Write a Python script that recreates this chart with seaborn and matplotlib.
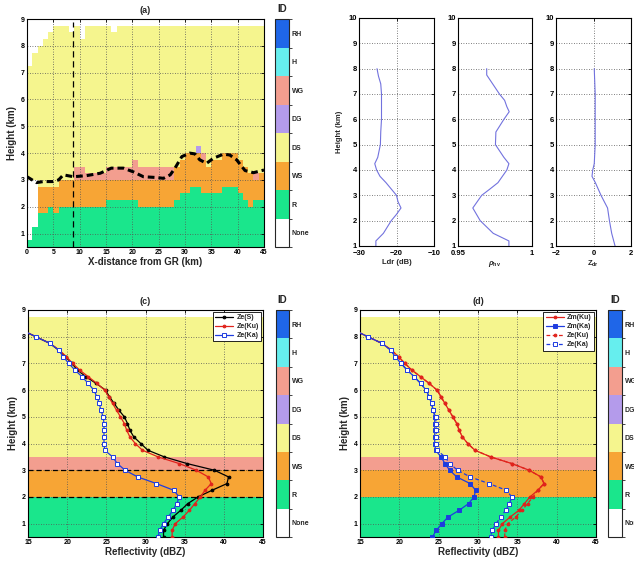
import numpy as np
import pandas as pd
import matplotlib
matplotlib.use("Agg")
import matplotlib.pyplot as plt
import seaborn as sns
from matplotlib.colors import ListedColormap, BoundaryNorm
from matplotlib.cm import ScalarMappable

# ---------------- data ----------------
class_names = ["None", "R", "WS", "DS", "DG", "WG", "H", "RH"]
class_colors = ["#FFFFFF", "#1AE68C", "#F7A535", "#F5F58E", "#B49BEB",
                "#F39E8F", "#66EEEE", "#1F66E8"]

# (a) hydrometeor-ID cross-section: layer tops (km) for each 1-km column
col_edges_km = list(range(0, 46))
r_top = [0.75, 1.25, 1.75, 1.75, 2.0, 1.75,
         2.0, 2.0, 2.0, 2.0, 2.0, 2.0, 2.0, 2.0, 2.0,
         2.25, 2.25, 2.25, 2.25, 2.25, 2.25,
         2.0, 2.0, 2.0, 2.0, 2.0, 2.0, 2.0,
         2.25, 2.5, 2.5, 2.75, 2.75, 2.5, 2.5, 2.5, 2.5, 2.75, 2.75, 2.75,
         2.5, 2.25, 2.0, 2.25, 2.25]
ws_top = [3.0, 3.0, 2.75, 2.75, 2.75, 2.75,
          3.0, 3.0, 3.0, 3.0, 3.0, 3.0, 3.0, 3.0, 3.0, 3.0, 3.0,
          3.0, 3.0, 3.0, 3.0, 3.0, 3.0, 3.0, 3.0, 3.0, 3.0, 3.0,
          3.5, 3.75, 4.0, 4.0, 4.0, 3.75, 3.5, 3.75, 3.75, 4.0, 4.0, 4.0,
          3.75, 3.5, 3.25, 3.0, 3.25]
wg_top = [3.0, 3.0, 2.75, 2.75, 2.75, 2.75,
          3.0, 3.0, 3.0, 3.5, 3.5, 3.25, 3.25, 3.25, 3.25,
          3.5, 3.5, 3.5, 3.5, 3.5, 3.75,
          3.5, 3.5, 3.5, 3.5, 3.5, 3.5, 3.5,
          3.5, 3.75, 4.0, 4.0, 4.0, 4.0, 3.5, 3.75, 3.75, 4.0, 4.0, 4.0,
          3.75, 3.5, 3.25, 3.25, 3.25]
ds_top = [7.25, 7.75, 8.0, 8.25, 8.5, 8.75, 8.75, 8.75, 8.5, 8.75, 8.25,
          8.75, 8.75, 8.75, 8.75, 8.75, 8.5,
          8.75, 8.75, 8.75, 8.75, 8.75, 8.75, 8.75, 8.75, 8.75, 8.75, 8.75,
          8.75, 8.75, 8.75, 8.75, 8.75, 8.75, 8.75, 8.75, 8.75, 8.75, 8.75,
          8.75, 8.75, 8.75, 8.75, 8.75, 8.75]
gap_cols = [0, 1]
gap_tops = [3.0, 3.0]
dg_cols = [32]
dg_tops = [4.25]
h_edges = np.arange(0.5, 9.01, 0.25)

melt_x = [0, 1.8, 3.1, 5.0, 6.0, 6.9, 8.8, 11.3, 13.9, 16.0, 18.3, 20.2, 22.1,
          24.6, 25.9, 27.2, 28.1, 29.4, 30.9, 31.9, 32.8, 34.1, 35.4, 37.3,
          38.5, 39.8, 41.4, 43.0, 45.0]
melt_h = [3.12, 2.9, 2.94, 2.94, 3.0, 3.19, 3.12, 3.16, 3.25, 3.44, 3.44, 3.3,
          3.12, 3.09, 3.06, 3.19, 3.44, 3.87, 4.0, 3.97, 3.75, 3.62, 3.81,
          3.96, 3.93, 3.75, 3.35, 3.27, 3.37]
gr_x = [8.8, 8.8]
gr_h = [0.5, 8.9]

# (b) polarimetric profiles
ldr_h = [8.0, 7.7, 7.4, 7.0, 6.0, 5.5, 5.0, 4.5, 4.25, 4.0, 3.75, 3.5, 3.0,
         2.75, 2.5, 2.25, 2.0, 1.5, 1.2, 1.0]
ldr = [-25.2, -24.8, -24.2, -24.0, -24.0, -24.2, -24.3, -25.0, -25.8, -25.3,
       -24.4, -22.8, -20.0, -19.6, -18.8, -20.0, -21.4, -23.5, -25.5, -25.5]
rho_h = [8.0, 7.75, 7.0, 6.75, 6.5, 6.3, 6.0, 5.5, 5.0, 4.5, 4.25, 4.0, 3.5,
         3.25, 3.0, 2.5, 2.0, 1.5, 1.2, 1.0]
rho = [0.9694, 0.9694, 0.978, 0.9815, 0.983, 0.9846, 0.981, 0.9756, 0.9753,
       0.981, 0.9844, 0.983, 0.977, 0.9716, 0.966, 0.960, 0.965, 0.9738,
       0.9844, 0.9844]
zdr_h = [8.0, 7.0, 6.0, 5.0, 4.25, 4.0, 3.75, 3.5, 3.0, 2.5, 2.0, 1.5, 1.0]
zdr = [0.04, 0.09, 0.09, 0.09, 0.04, -0.04, -0.08, 0.1, 0.4, 0.75, 0.85,
       0.97, 1.15]

# (c)/(d) reflectivity profiles
z_h = [8.25, 8.0, 7.75, 7.5, 7.25, 7.0, 6.75, 6.5, 6.25, 6.0, 5.75, 5.5,
       5.25, 5.0, 4.75, 4.5, 4.25, 4.0, 3.75, 3.5, 3.25, 3.0, 2.75, 2.5,
       2.25, 2.0, 1.75, 1.5, 1.25, 1.0, 0.75, 0.5]
ze_s = [14.2, 16.0, 17.8, 18.9, 19.8, 20.6, 21.3, 22.4, 23.7, 24.9, 25.4,
        26.0, 26.6, 27.3, 27.7, 28.0, 28.5, 29.4, 30.3, 32.4, 35.3, 38.8,
        40.6, 40.4, 38.5, 36.7, 35.4, 34.5, 33.5, 32.8, 32.3, 32.3]
ze_ku = [14.2, 16.0, 17.8, 19.0, 19.9, 20.7, 21.6, 22.7, 23.8, 24.8, 25.3,
         25.8, 26.3, 26.8, 27.3, 27.6, 28.0, 28.7, 29.6, 31.6, 34.3, 36.5,
         38.0, 38.4, 37.6, 37.0, 36.3, 35.6, 34.8, 33.8, 33.4, 33.4]
ze_ka = [14.2, 16.0, 17.8, 18.9, 19.5, 20.2, 21.0, 21.9, 22.7, 23.4, 23.8,
         24.1, 24.3, 24.6, 24.7, 24.7, 24.7, 24.7, 24.8, 25.8, 26.4, 27.4,
         29.0, 31.4, 33.6, 34.3, 34.0, 33.5, 32.9, 32.3, 31.8, 31.6]
zm_ku = [14.2, 16.0, 17.8, 19.0, 19.9, 20.7, 21.6, 22.7, 23.8, 24.8, 25.3,
         25.8, 26.3, 26.8, 27.3, 27.6, 28.0, 28.7, 29.6, 31.6, 34.3, 36.5,
         38.0, 38.4, 37.6, 36.6, 35.9, 35.2, 34.1, 33.1, 32.6, 32.6]
zm_ka = [14.2, 16.0, 17.8, 18.9, 19.5, 20.2, 21.0, 21.9, 22.7, 23.4, 23.8,
         24.1, 24.3, 24.5, 24.5, 24.5, 24.5, 24.5, 24.6, 25.3, 25.8, 26.4,
         27.3, 29.0, 29.7, 29.5, 28.8, 27.6, 26.2, 25.4, 24.7, 24.2]

band_lo = [0.5, 2.0, 3.0, 3.5]
band_hi = [2.0, 3.0, 3.5, 8.75]
band_cls = ["R", "WS", "WG", "DS"]
dash_levels = [2.0, 3.0]

# ---------------- style ----------------
sns.set_style("white")
plt.rcParams["font.family"] = ["Liberation Sans", "DejaVu Sans"]
plt.rcParams["font.weight"] = "bold"
plt.rcParams["axes.labelweight"] = "bold"
plt.rcParams["axes.titleweight"] = "bold"
plt.rcParams["mathtext.fontset"] = "custom"
plt.rcParams["mathtext.rm"] = "Liberation Sans"
plt.rcParams["mathtext.it"] = "Liberation Sans:italic"
plt.rcParams["mathtext.bf"] = "Liberation Sans:bold"

BLACK = "#000000"
RED = "#E0231C"
BLUE = "#1E3CE0"
PROF = "#7272DE"

W, H = 634, 562
fig = plt.figure(figsize=(W / 100, H / 100), dpi=100)


def rect(l, t, r, b):
    return [l / W, 1 - b / H, (r - l) / W, (b - t) / H]


cmap = ListedColormap(class_colors)
norm = BoundaryNorm(np.arange(-0.5, len(class_names) + 0.5, 1), len(class_names))
code = {n: i for i, n in enumerate(class_names)}


def style_axes(ax, xlim, ylim, xticks, yticks, ts=5, xpad=1.5):
    ax.set_xlim(*xlim)
    ax.set_ylim(*ylim)
    ax.set_xticks(xticks)
    ax.set_yticks(yticks)
    ax.tick_params(direction="in", length=2, width=0.6, labelsize=ts,
                   top=True, right=True, pad=1.5, colors="black")
    ax.tick_params(axis="x", pad=xpad)
    for t in ax.get_xticklabels() + ax.get_yticklabels():
        t.set_fontweight("bold")
    ax.grid(True, linestyle=(0, (1, 2)), color="#555555", linewidth=0.6)
    ax.set_axisbelow("line")
    for s in ax.spines.values():
        s.set_linewidth(0.8)
        s.set_color("black")
        s.set_visible(True)


def id_colorbar(r):
    cax = fig.add_axes(r)
    sm = ScalarMappable(norm=norm, cmap=cmap)
    cb = fig.colorbar(sm, cax=cax, ticks=list(range(len(class_names))))
    cb.set_ticklabels(class_names)
    cax.tick_params(length=0, labelsize=5, pad=2)
    for t in cax.get_yticklabels():
        t.set_fontweight("bold")
    cb.outline.set_linewidth(0.8)
    cax.set_title("ID", fontsize=7, fontweight="bold", pad=5)
    return cax


# ---------------- (a) ----------------
axa = fig.add_axes(rect(27, 19, 264, 247))
h_cent = (h_edges[:-1] + h_edges[1:]) / 2
gaps = dict(zip(gap_cols, gap_tops))
dgs = dict(zip(dg_cols, dg_tops))
grid = np.zeros((len(h_cent), len(r_top)), dtype=int)
for i in range(len(r_top)):
    g_top = gaps.get(i, r_top[i])
    d_top = dgs.get(i, wg_top[i])
    for j, h in enumerate(h_cent):
        if h < r_top[i]:
            c = "R"
        elif h < g_top:
            c = "None"
        elif h < ws_top[i]:
            c = "WS"
        elif h < wg_top[i]:
            c = "WG"
        elif h < d_top:
            c = "DG"
        elif h < ds_top[i]:
            c = "DS"
        else:
            c = "None"
        grid[j, i] = code[c]
axa.pcolormesh(col_edges_km, h_edges, grid, cmap=cmap, norm=norm,
               shading="flat", zorder=1)
sns.lineplot(x=melt_x, y=melt_h, ax=axa, color="black", linewidth=2.2,
             linestyle=(0, (2.2, 1.3)), sort=False, estimator=None, zorder=3)
sns.lineplot(x=gr_x, y=gr_h, ax=axa, color="black", linewidth=0.9,
             linestyle=(0, (5, 3)), sort=False, estimator=None, zorder=3)
style_axes(axa, (0, 45), (0.5, 9), list(range(0, 46, 5)), list(range(1, 10)))
axa.set_xlabel("X-distance from GR (km)", fontsize=7, labelpad=1)
axa.set_ylabel("Height (km)", fontsize=7, labelpad=3)
axa.set_title("(a)", fontsize=6.5, pad=4)
id_colorbar(rect(275, 19, 289, 247))

# ---------------- (b) ----------------
prof_specs = [
    (359, 434, ldr, ldr_h, (-30, -10), [-30, -20, -10], ["\u221230", "\u221220", "\u221210"], "Ldr (dB)"),
    (458, 532, rho, rho_h, (0.95, 1.0), [0.95, 1.0], ["0.95", "1"], r"$\rho_{\mathrm{hv}}$"),
    (556, 631, zdr, zdr_h, (-2, 2), [-2, 0, 2], ["\u22122", "0", "2"], r"$\mathbf{Z_{dr}}$"),
]
for k, (l, r, vals, hs, xl, xt, xtl, xlab) in enumerate(prof_specs):
    ax = fig.add_axes(rect(l, 18, r, 246))
    sns.lineplot(x=vals, y=hs, ax=ax, color=PROF, linewidth=0.8,
                 sort=False, estimator=None, orient="y")
    style_axes(ax, xl, (1, 10), xt, list(range(1, 11)), ts=5.5, xpad=3)
    ax.set_xticklabels(xtl)
    for t in ax.get_xticklabels():
        t.set_fontweight("bold")
    ax.set_xlabel(xlab, fontsize=5.5, labelpad=1)
    if k == 0:
        ax.set_ylabel("Height (km)", fontsize=5.5, labelpad=4)
    else:
        ax.set_ylabel("")


# ---------------- (c) & (d) ----------------
def bands(ax):
    for lo, hi, c in zip(band_lo, band_hi, band_cls):
        ax.axhspan(lo, hi, color=class_colors[code[c]], lw=0, zorder=0.5)


def prof(ax, vals, color, marker, ls, label, mfc=None, ms=2.6):
    sns.lineplot(x=vals, y=z_h, ax=ax, color=color, linewidth=0.9,
                 linestyle=ls, marker=marker, markersize=ms,
                 markeredgecolor=color,
                 markerfacecolor=(color if mfc is None else mfc),
                 markeredgewidth=0.7, sort=False, estimator=None,
                 orient="y", label=label, zorder=3)


axc = fig.add_axes(rect(28, 310, 263, 537))
bands(axc)
for lv in dash_levels:
    axc.axhline(lv, color="black", linestyle=(0, (4, 2.5)), linewidth=0.9, zorder=2.5)
prof(axc, ze_s, BLACK, "o", "-", "Ze(S)", ms=2.0)
prof(axc, ze_ku, RED, "o", "-", "Ze(Ku)", ms=2.0)
prof(axc, ze_ka, BLUE, "s", "-", "Ze(Ka)", mfc="white", ms=2.6)
style_axes(axc, (15, 45), (0.5, 9), list(range(15, 46, 5)), list(range(1, 10)))
axc.set_xlabel("Reflectivity (dBZ)", fontsize=7, labelpad=1)
axc.set_ylabel("Height (km)", fontsize=7, labelpad=3)
axc.set_title("(c)", fontsize=6.5, pad=4)
leg = axc.legend(loc="upper right", fontsize=5, frameon=True, fancybox=False,
                 edgecolor="black", framealpha=1, borderaxespad=0.3,
                 handlelength=2.6, handletextpad=0.5, labelspacing=0.3,
                 borderpad=0.3)
leg.get_frame().set_linewidth(0.6)
for t in leg.get_texts():
    t.set_fontweight("bold")
id_colorbar(rect(276, 310, 289, 537))

axd = fig.add_axes(rect(360, 310, 596, 537))
bands(axd)
prof(axd, zm_ku, RED, "o", "-", "Zm(Ku)", ms=2.0)
prof(axd, zm_ka, BLUE, "s", "-", "Zm(Ka)", ms=2.6)
prof(axd, ze_ku, RED, "o", (0, (3, 2)), "Ze(Ku)", ms=2.0)
prof(axd, ze_ka, BLUE, "s", (0, (3, 2)), "Ze(Ka)", mfc="white", ms=2.6)
style_axes(axd, (15, 45), (0.5, 9), list(range(15, 46, 5)), list(range(1, 10)))
axd.set_xlabel("Reflectivity (dBZ)", fontsize=7, labelpad=1)
axd.set_ylabel("Height (km)", fontsize=7, labelpad=3)
axd.set_title("(d)", fontsize=6.5, pad=4)
leg = axd.legend(loc="upper right", fontsize=5, frameon=True, fancybox=False,
                 edgecolor="black", framealpha=1, borderaxespad=0.3,
                 handlelength=2.6, handletextpad=0.5, labelspacing=0.3,
                 borderpad=0.3)
leg.get_frame().set_linewidth(0.6)
for t in leg.get_texts():
    t.set_fontweight("bold")
id_colorbar(rect(608, 310, 622, 537))

fig.savefig("out.png", dpi=100)
